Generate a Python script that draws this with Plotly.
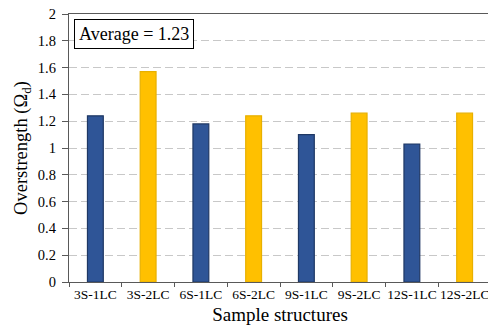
import plotly.graph_objects as go

categories = ["3S-1LC", "3S-2LC", "6S-1LC", "6S-2LC", "9S-1LC", "9S-2LC", "12S-1LC", "12S-2LC"]
overstrength = [1.24, 1.57, 1.18, 1.24, 1.10, 1.26, 1.03, 1.26]
average_label = "Average = 1.23"

fill_colors = ["#2F5597" if "1LC" in c else "#FFC000" for c in categories]
line_colors = ["#1F3864" if "1LC" in c else "#E8B000" for c in categories]

FONT = "Liberation Serif, Times New Roman, serif"

fig = go.Figure(go.Bar(
    x=categories, y=overstrength,
    marker=dict(color=fill_colors, line=dict(color=line_colors, width=1.2)),
    width=0.3,
))

# page body has an 8px default margin, so the figure is drawn 8px smaller
fig.update_layout(
    width=488, height=323,
    margin=dict(l=61, r=5, t=6, b=49),
    paper_bgcolor="white", plot_bgcolor="white",
    font=dict(family=FONT, color="#000000", size=13),
    showlegend=False,
    xaxis=dict(
        showline=True, linecolor="#595959", linewidth=1.3, mirror=True,
        ticks="outside", ticklen=4, tickcolor="#595959", tickson="boundaries",
        tickangle=0, automargin=False, ticklabeloverflow="allow",
        tickfont=dict(size=13.5, family=FONT),
        title=dict(text="Sample structures", font=dict(size=19, family=FONT), standoff=6),
    ),
    yaxis=dict(
        range=[0, 2], dtick=0.2, tickformat="~g", automargin=False,
        ticklabeloverflow="allow",
        showline=True, linecolor="#595959", linewidth=1.3, mirror=True,
        ticks="outside", ticklen=6, tickcolor="#595959", ticklabelstandoff=3,
        showgrid=True, gridcolor="#C8C8C8", griddash="8px,4px", gridwidth=1,
        zeroline=False,
        tickfont=dict(size=14.5, family=FONT),
        title=dict(text="Overstrength (Ω<sub>d</sub>)", font=dict(size=18.5, family=FONT), standoff=5),
    ),
    annotations=[dict(
        text=average_label, xref="paper", yref="paper", x=0.012, y=0.981,
        xanchor="left", yanchor="top", showarrow=False,
        font=dict(size=18, family=FONT, color="#000"),
        bordercolor="#000", borderwidth=1, borderpad=4, bgcolor="white",
    )],
)

fig.write_html("out.html")
